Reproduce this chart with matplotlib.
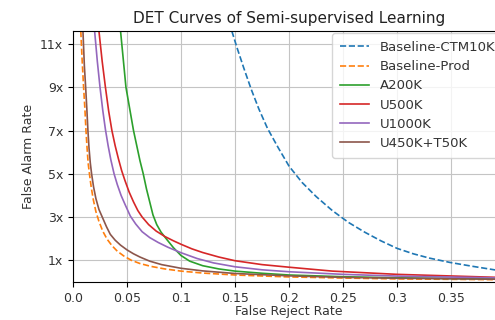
#!/usr/bin/env python

import numpy as np
import matplotlib
matplotlib.use("Agg")
import matplotlib.pyplot as plt

# DET curve points: false reject rate (x) vs false alarms (y)
ctm10k_x = [0.147, 0.152, 0.158, 0.165, 0.172, 0.180, 0.190, 0.200, 0.212, 0.225, 0.240,
            0.255, 0.270, 0.285, 0.300, 0.315, 0.330, 0.349, 0.370, 0.390, 0.400]
ctm10k_y = [11.6, 10.8, 9.9, 8.9, 8.0, 7.1, 6.2, 5.35, 4.6, 3.95, 3.3,
            2.75, 2.3, 1.9, 1.55, 1.3, 1.1, 0.9, 0.72, 0.56, 0.5]

prod_x = [0.0072, 0.0085, 0.0098, 0.0110, 0.0120, 0.0130, 0.0140, 0.0152, 0.0168, 0.0188,
          0.0212, 0.0240, 0.0275, 0.0315, 0.0360, 0.0410, 0.0470, 0.0540, 0.0620, 0.0720,
          0.0850, 0.1000, 0.1200, 0.1500, 0.2000, 0.2500, 0.3000, 0.4000]
prod_y = [11.6, 10.2, 9.0, 8.0, 7.0, 6.2, 5.5, 5.0, 4.4, 3.8,
          3.25, 2.8, 2.35, 1.98, 1.68, 1.42, 1.20, 1.00, 0.85, 0.72,
          0.60, 0.50, 0.41, 0.32, 0.23, 0.18, 0.14, 0.10]

a200k_x = [0.0440, 0.0465, 0.0490, 0.0525, 0.0560, 0.0590, 0.0620, 0.0650, 0.0680, 0.0710,
           0.0740, 0.0775, 0.0815, 0.0870, 0.0930, 0.1000, 0.1080, 0.1200, 0.1350, 0.1500,
           0.1750, 0.2000, 0.2500, 0.3000, 0.4000]
a200k_y = [11.6, 10.3, 9.0, 8.0, 7.0, 6.3, 5.6, 5.0, 4.3, 3.7,
           3.1, 2.65, 2.3, 1.95, 1.58, 1.22, 0.96, 0.75, 0.60, 0.50,
           0.40, 0.32, 0.24, 0.19, 0.13]

u500k_x = [0.0240, 0.0270, 0.0300, 0.0330, 0.0360, 0.0390, 0.0420, 0.0450, 0.0480, 0.0520,
           0.0560, 0.0600, 0.0640, 0.0700, 0.0770, 0.0850, 0.0930, 0.1000, 0.1100,
           0.1200, 0.1350, 0.1500, 0.1750, 0.2000, 0.2400, 0.3000, 0.4000]
u500k_y = [11.6, 10.2, 9.0, 7.9, 7.0, 6.3, 5.7, 5.15, 4.7, 4.15,
           3.7, 3.3, 3.0, 2.65, 2.35, 2.1, 1.9, 1.74, 1.53,
           1.36, 1.15, 0.98, 0.80, 0.68, 0.50, 0.35, 0.20]

u1000k_x = [0.0200, 0.0225, 0.0250, 0.0275, 0.0300, 0.0325, 0.0350, 0.0380, 0.0410, 0.0445,
            0.0480, 0.0530, 0.0580, 0.0640, 0.0710, 0.0790, 0.0880, 0.1000, 0.1150, 0.1300,
            0.1500, 0.1750, 0.2000, 0.2500, 0.3000, 0.4000]
u1000k_y = [11.6, 10.2, 9.0, 7.95, 7.05, 6.3, 5.65, 5.0, 4.5, 4.0,
            3.6, 3.05, 2.68, 2.32, 2.05, 1.82, 1.60, 1.35, 1.08, 0.88,
            0.70, 0.56, 0.47, 0.35, 0.27, 0.18]

u450k_x = [0.0092, 0.0105, 0.0117, 0.0128, 0.0138, 0.0148, 0.0160, 0.0172, 0.0190, 0.0212,
           0.0240, 0.0275, 0.0310, 0.0345, 0.0390, 0.0440, 0.0500, 0.0560, 0.0620, 0.0710,
           0.0820, 0.1000, 0.1200, 0.1500, 0.2000, 0.2500, 0.3000, 0.4000]
u450k_y = [11.6, 10.0, 9.0, 8.0, 7.0, 6.2, 5.5, 5.0, 4.4, 3.85,
           3.35, 2.95, 2.55, 2.2, 1.93, 1.70, 1.48, 1.30, 1.15, 0.96,
           0.80, 0.63, 0.51, 0.39, 0.28, 0.21, 0.17, 0.12]

xticks = [0.0, 0.05, 0.1, 0.15, 0.2, 0.25, 0.3, 0.35]
xticklabels = ["0.0", "0.05", "0.1", "0.15", "0.2", "0.25", "0.3", "0.35"]
yticks = [1, 3, 5, 7, 9, 11]
yticklabels = ["1x", "3x", "5x", "7x", "9x", "11x"]

fig = plt.figure(figsize=(4.95, 3.2), dpi=100)
ax = fig.add_axes([0.1475, 0.119, 0.873, 0.784])

ax.plot(ctm10k_x, ctm10k_y, "--", color="C0", lw=1.2, label="Baseline-CTM10K")
ax.plot(prod_x, prod_y, "--", color="C1", lw=1.2, label="Baseline-Prod")
ax.plot(a200k_x, a200k_y, color="C2", lw=1.2, label="A200K")
ax.plot(u500k_x, u500k_y, color="C3", lw=1.2, label="U500K")
ax.plot(u1000k_x, u1000k_y, color="C4", lw=1.2, label="U1000K")
ax.plot(u450k_x, u450k_y, color="C5", lw=1.2, label="U450K+T50K")

ax.set_xlim(0, 0.4)
ax.set_ylim(0, 11.6)
ax.set_xticks(xticks)
ax.set_xticklabels(xticklabels, fontsize=9, color="#333333")
ax.set_yticks(yticks)
ax.set_yticklabels(yticklabels, fontsize=9, color="#333333")
ax.grid(True, color="#c4c4c4", lw=0.8)
ax.set_title("DET Curves of Semi-supervised Learning", fontsize=11, color="#222222")
ax.set_xlabel("False Reject Rate", fontsize=9, labelpad=0, color="#333333")
ax.set_ylabel("False Alarm Rate", fontsize=9, color="#333333")
leg = ax.legend(loc="upper right", fontsize=9.5, handlelength=2.2, labelspacing=0.47,
                borderaxespad=0.15, borderpad=0.6)
for t in leg.get_texts():
    t.set_color("#333333")

fig.savefig("out.png", dpi=100)
